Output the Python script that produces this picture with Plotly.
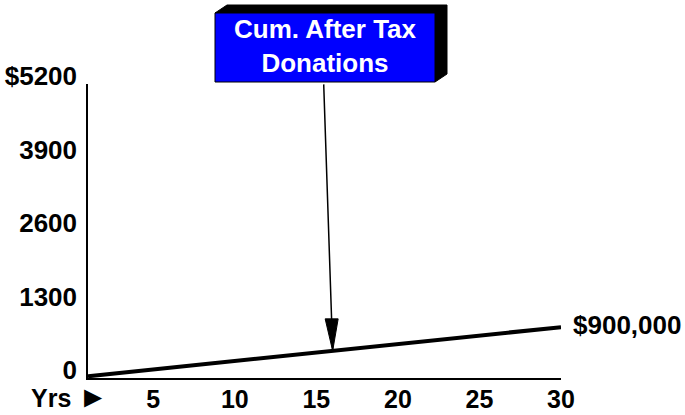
import plotly.graph_objects as go

# ---- data (values in $ thousands) ----
years = list(range(1, 31))
cum_donations = [30, 60, 90, 120, 150, 180, 210, 240, 270, 300,
                 330, 360, 390, 420, 450, 480, 510, 540, 570, 600,
                 630, 660, 690, 720, 750, 780, 810, 840, 870, 900]
x_ticks = [5, 10, 15, 20, 25, 30]
x_tick_labels = ["5", "10", "15", "20", "25", "30"]
y_ticks = [0, 1300, 2600, 3900, 5200]
y_tick_labels = ["0", "1300", "2600", "3900", "$5200"]
callout_year = 16
callout_text = "Cum. After Tax<br>Donations"
end_label = "$900,000"
x_axis_label = "Yrs <span style='font-size:30px'>\u25BA</span>"

# ---- layout geometry ----
W, H = 685, 415
ML, MR, MT, MB = 88, 124, 84, 37
PW, PH = W - ML - MR, H - MT - MB


def px(x):
    return (x - ML) / PW


def py(y):
    return (H - MB - y) / PH


FONT = "Liberation Sans, Arial, sans-serif"
callout_value = cum_donations[years.index(callout_year)]

fig = go.Figure()
fig.add_trace(go.Scatter(
    x=years, y=cum_donations, mode="lines",
    line=dict(color="black", width=4), cliponaxis=False,
    hoverinfo="skip", showlegend=False))

shapes = [
    # 3D shadow of callout box
    dict(type="path", xref="paper", yref="paper", layer="above",
         path=(f"M{px(215)},{py(13)} L{px(227)},{py(5)} L{px(447)},{py(5)} "
               f"L{px(447)},{py(74)} L{px(435)},{py(82)} L{px(435)},{py(13)} Z"),
         fillcolor="black", line=dict(color="black", width=1)),
    # front face
    dict(type="rect", xref="paper", yref="paper", layer="above",
         x0=px(215), x1=px(435), y0=py(82), y1=py(13),
         fillcolor="#0000FF", line=dict(color="black", width=1)),
    # arrow head
    dict(type="path", xref="x", yref="y", xsizemode="pixel", ysizemode="pixel",
         xanchor=callout_year, yanchor=callout_value, layer="above",
         path="M0,0 L-7.5,32 L5.5,32 Z",
         fillcolor="black", line=dict(color="black", width=1)),
]

annotations = [
    # arrow line
    dict(x=callout_year, y=callout_value, xref="x", yref="y", text="",
         showarrow=True, arrowhead=0, arrowwidth=1.5, arrowcolor="black",
         ax=-9, ay=-268, standoff=0),
    dict(xref="paper", yref="paper", x=px(325), y=py(46), text=callout_text,
         showarrow=False, xanchor="center", yanchor="middle",
         font=dict(family=FONT, size=26, color="white", weight="bold")),
    dict(x=30, y=900, xref="x", yref="y", text=end_label, showarrow=False,
         xanchor="left", yanchor="middle", xshift=10, yshift=2,
         font=dict(family=FONT, size=26, color="black", weight="bold")),
    dict(xref="paper", yref="paper", x=px(110), y=py(396), text=x_axis_label,
         showarrow=False, xanchor="right", yanchor="middle",
         font=dict(family=FONT, size=25, color="black", weight="bold")),
]

fig.update_layout(
    width=W, height=H, margin=dict(l=ML, r=MR, t=MT, b=MB, pad=0),
    paper_bgcolor="white", plot_bgcolor="white",
    shapes=shapes, annotations=annotations, showlegend=False,
    xaxis=dict(range=[1, 30], tickvals=x_ticks, ticktext=x_tick_labels,
               showline=True, linecolor="black", linewidth=1.5,
               showgrid=False, zeroline=False, ticks="", automargin=False,
               ticklabelstandoff=-2,
               tickfont=dict(family=FONT, size=25, color="black", weight="bold")),
    yaxis=dict(range=[0, 5200], tickvals=y_ticks, ticktext=y_tick_labels,
               showline=True, linecolor="black", linewidth=1.5,
               showgrid=False, zeroline=False, ticks="", automargin=False,
               ticklabelstandoff=4, ticklabelshift=-8,
               tickfont=dict(family=FONT, size=26, color="black", weight="bold")),
)

fig.write_html("out.html", config={"displayModeBar": False},
               post_script="document.body.style.margin='0';document.body.style.overflow='hidden';")
